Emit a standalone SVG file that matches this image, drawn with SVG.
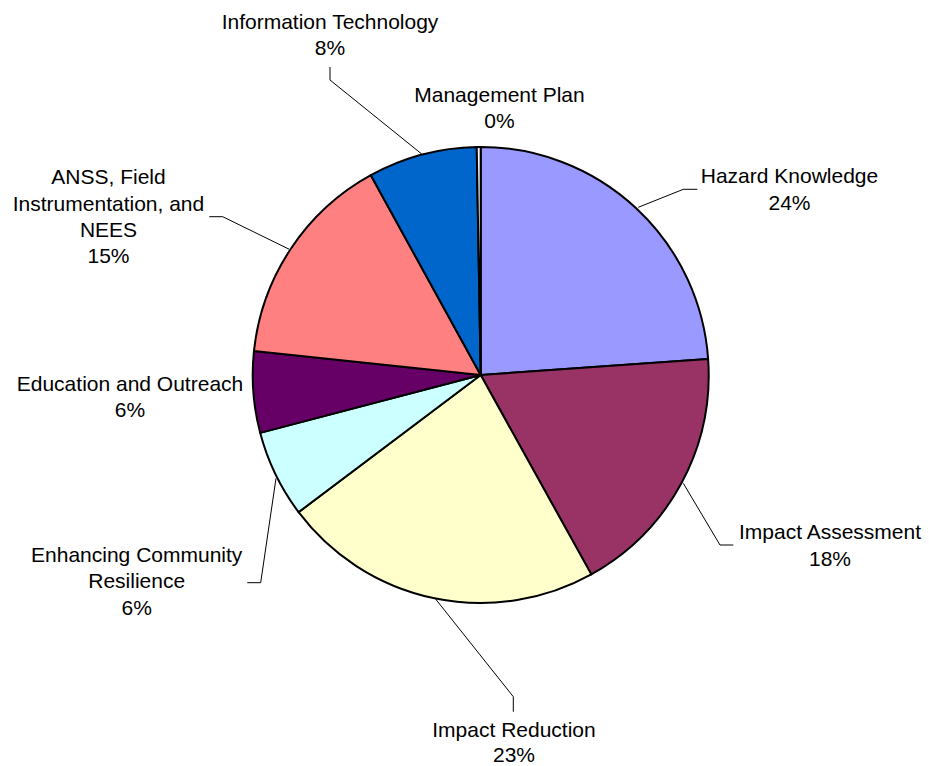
<svg xmlns="http://www.w3.org/2000/svg" width="929" height="766" viewBox="0 0 929 766">
<style>
.s{stroke:#000;stroke-width:2;stroke-linejoin:round}
.t{font-family:"Liberation Sans",Arial,sans-serif;font-size:21px;fill:#000;text-anchor:middle}
.l{fill:none;stroke:#000;stroke-width:1}
</style>
<rect width="929" height="766" fill="#fff"/>
<g id="slices">
<g id="hazard"><path class="s" fill="#9999FF" d="M480.7,375 L480.7,147 A228,228 0 0 1 708.14,359.01 Z"/></g>
<g id="impact-assessment"><path class="s" fill="#993366" d="M480.7,375 L708.14,359.01 A228,228 0 0 1 591.30,574.38 Z"/></g>
<g id="impact-reduction"><path class="s" fill="#FFFFCC" d="M480.7,375 L591.30,574.38 A228,228 0 0 1 298.58,512.17 Z"/></g>
<g id="enhancing"><path class="s" fill="#CCFFFF" d="M480.7,375 L298.58,512.17 A228,228 0 0 1 260.16,432.86 Z"/></g>
<g id="education"><path class="s" fill="#660066" d="M480.7,375 L260.16,432.86 A228,228 0 0 1 253.98,350.89 Z"/></g>
<g id="anss"><path class="s" fill="#FF8080" d="M480.7,375 L253.98,350.89 A228,228 0 0 1 370.83,175.22 Z"/></g>
<g id="it"><path class="s" fill="#0066CC" d="M480.7,375 L370.83,175.22 A228,228 0 0 1 476.72,147.03 Z"/></g>
<g id="management"><path class="s" fill="#F4F4FF" d="M480.7,375 L476.72,147.03 A228,228 0 0 1 480.7,147 Z"/></g>
</g>
<g id="connectors">
<polyline class="l" points="330,67 330,80 421.7,154"/>
<polyline class="l" points="697.3,189.3 683.3,189.3 638.3,207.3"/>
<polyline class="l" points="733.3,545 720,545 683.3,483.3"/>
<polyline class="l" points="513.3,711.7 513.3,696.7 435,598.3"/>
<polyline class="l" points="247.3,582.7 260.7,582.7 276,478.3"/>
<polyline class="l" points="209.3,216.7 222.7,216.7 289.3,249.3"/>
</g>
<g id="labels">
<g id="lbl-it"><text class="t" x="330" y="28.5">Information Technology</text><text class="t" x="330" y="55">8%</text></g>
<g id="lbl-mgmt"><text class="t" x="499.5" y="101.7">Management Plan</text><text class="t" x="499.5" y="128.3">0%</text></g>
<g id="lbl-hazard"><text class="t" x="789.5" y="183.3">Hazard Knowledge</text><text class="t" x="789.5" y="210">24%</text></g>
<g id="lbl-ia"><text class="t" x="830" y="539">Impact Assessment</text><text class="t" x="830" y="565.5">18%</text></g>
<g id="lbl-ir"><text class="t" x="514" y="736.7">Impact Reduction</text><text class="t" x="514" y="762.3">23%</text></g>
<g id="lbl-enh"><text class="t" x="136.7" y="562.3">Enhancing Community</text><text class="t" x="136.7" y="588.3">Resilience</text><text class="t" x="136.7" y="615">6%</text></g>
<g id="lbl-edu"><text class="t" x="130" y="390.7">Education and Outreach</text><text class="t" x="130" y="417.3">6%</text></g>
<g id="lbl-anss"><text class="t" x="108.5" y="184">ANSS, Field</text><text class="t" x="108.5" y="210.5">Instrumentation, and</text><text class="t" x="108.5" y="237">NEES</text><text class="t" x="108.5" y="263.3">15%</text></g>
</g>
</svg>
